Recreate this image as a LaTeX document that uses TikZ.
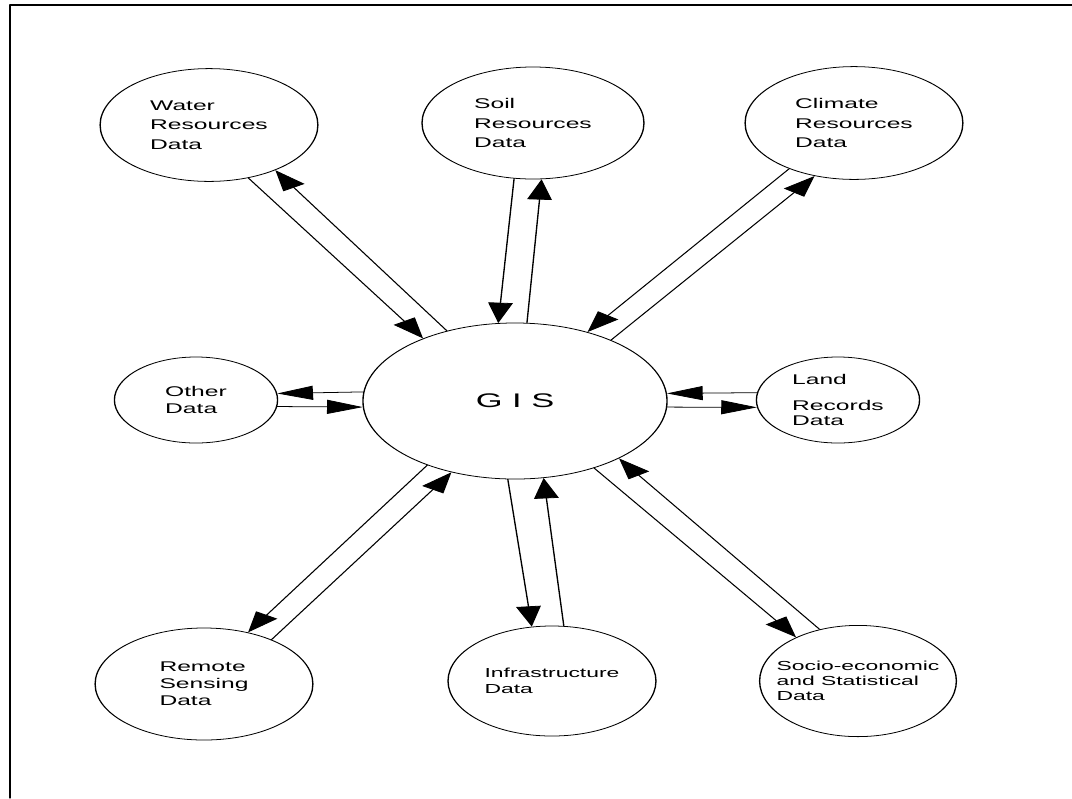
\documentclass[tikz,border=0pt]{standalone}
\usepackage{fontspec}
\setsansfont{Liberation Sans}
\usetikzlibrary{arrows.meta,shapes.geometric}

\begin{document}
\begin{tikzpicture}[
  x=0.025cm, y=-0.025cm,
  line join=round, line cap=round,
  frame/.style={line width=0.8pt},
]

% ── the page and its frame ────────────────────────────────────────────────
\useasboundingbox (0,0) rectangle (1072,798);
\draw[frame] (1072,5) -- (10,5) -- (10,798);

% ── the whole chart is drawn narrow and stretched sideways ────────────────
\begin{scope}[
  transform canvas={xscale=1.75}, x=0.0142857cm,
  blob/.style={draw, ellipse, line width=0.55pt, inner sep=0pt, align=left,
    minimum width=3.11cm, minimum height=2.82cm,
    font=\sffamily\fontsize{10}{12}\selectfont},
  smallblob/.style={blob, minimum width=2.33cm, minimum height=2.15cm},
  toprow/.style={font=\sffamily\fontsize{10}{14}\selectfont},
  flow/.style={line width=0.55pt, -{Triangle[length=14.5pt,width=10pt]}},
]

% the hub
\node[blob, minimum width=4.343cm, minimum height=3.9cm,
      font=\sffamily\fontsize{14}{16}\selectfont] (gis) at (515,401) {G I S};

% the data sources round it
\node[blob, toprow] (water) at (209,125) {Water\\Resources\\Data};
\node[blob, toprow, minimum width=3.17cm, minimum height=2.8cm] (soil) at (533,123) {Soil\\Resources\\Data};
\node[blob, toprow] (climate) at (854,123) {Climate\\Resources\\Data};
\node[smallblob] (other) at (196,400) {Other\\Data};
\node[smallblob, font=\sffamily\fontsize{10}{11}\selectfont] (land) at (838,400) {Land\\[7.5pt]Records\\Data};
\node[blob, minimum height=2.8cm] (remote) at (204,684) {Remote\\Sensing\\Data};
\node[blob, minimum width=2.97cm, minimum height=2.75cm,
      font=\sffamily\fontsize{9.3}{11}\selectfont] (infra) at (552,681) {Infrastructure\\Data};
\node[blob, minimum width=2.81cm, minimum height=2.78cm, inner xsep=-12pt,
      font=\sffamily\fontsize{9.3}{10.5}\selectfont] (socio) at (858,681) {Socio-economic\\and Statistical\\Data};

% ── two ways to and from every source ─────────────────────────────────────
\draw[flow] (water.-67.9) -- (gis.130.9);
\draw[flow] (gis.119.7) -- (water.-50);
\draw[flow] (soil.-101.9) -- (gis.97.5);
\draw[flow] (gis.85) -- (soil.-85);
\draw[flow] (climate.-129.2) -- (gis.59.6);
\draw[flow] (gis.48.8) -- (climate.-113.4);
\draw[flow] (gis.174.7) -- (other.8.5);
\draw[flow] (other.-8.5) -- (gis.-176);
\draw[flow] (land.171.4) -- (gis.5.3);
\draw[flow] (gis.-4) -- (land.-171.4);
\draw[flow] (gis.-128.1) -- (remote.64.4);
\draw[flow] (remote.49.2) -- (gis.-117.3);
\draw[flow] (gis.-93.3) -- (infra.102.7);
\draw[flow] (infra.83.3) -- (gis.-78.8);
\draw[flow] (gis.-56.5) -- (socio.129.3);
\draw[flow] (socio.113.8) -- (gis.-44);

\end{scope}

\end{tikzpicture}
\end{document}
